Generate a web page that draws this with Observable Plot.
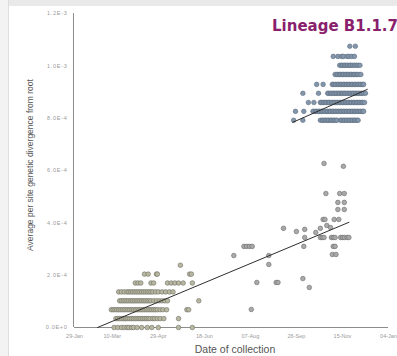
<!DOCTYPE html>
<html>
<head>
<meta charset="utf-8">
<script src="https://cdn.jsdelivr.net/npm/d3@7"></script>
<script src="https://cdn.jsdelivr.net/npm/@observablehq/plot@0.6"></script>
<style>
  html, body { margin: 0; padding: 0; background: #fff; }
  #wrap { position: relative; width: 397px; height: 356px; overflow: hidden; font-family: "Liberation Sans", Arial, sans-serif; }
  #wrap svg { position: absolute; left: 0; top: 0; }
  #topband { position: absolute; left: 0; top: 0; width: 397px; height: 6px; background: #e9e9e9; }
  #leftband { position: absolute; left: 0; top: 0; width: 8px; height: 356px; background: #f3f3f3; border-right: 1px solid #dedede; }
  #title { position: absolute; left: 272px; top: 19px; font: bold 15px "DejaVu Sans", Verdana, sans-serif; line-height: 15px; color: #8a1f6d; white-space: nowrap; }
  #ylabel { position: absolute; left: 30px; top: 165px; transform: translate(-50%, -50%) rotate(-90deg); font-size: 8.5px; color: #555; white-space: nowrap; }
  #xlabel { position: absolute; left: 235px; top: 349px; transform: translate(-50%, -50%); font-size: 10.5px; color: #555; white-space: nowrap; }
  svg [aria-label="y-axis tick label"] text { letter-spacing: 0.7px; }
</style>
</head>
<body>
<div id="wrap">
  <div id="chart"></div>
  <div id="topband"></div>
  <div id="leftband"></div>
  <div id="title">Lineage B1.1.7</div>
  <div id="ylabel">Average per site genetic divergence from root</div>
  <div id="xlabel">Date of collection</div>
</div>
<script>
// Day numbers are days of the year 2020 (1 = 1 Jan 2020).
const xTickDays = [29, 70, 120, 170, 220, 270, 320, 370];
const xTickLabels = ["29-Jan", "10-Mar", "29-Apr", "18-Jun", "07-Aug", "26-Sep", "15-Nov", "04-Jan"];
const yTicks = [0, 2e-4, 4e-4, 6e-4, 8e-4, 1e-3, 1.2e-3];
const yTickLabels = ["0.0E+0", "2.0E-4", "4.0E-4", "6.0E-4", "8.0E-4", "1.0E-3", "1.2E-3"];

// Early cluster (Mar-Jun), one list of days per divergence row
const earlyValues = [0, 3.4e-5, 6.8e-5, 1.02e-4, 1.36e-4, 1.70e-4, 2.04e-4, 2.38e-4];
const earlyDays = [
  [72, 76, 80, 83, 86, 88, 91, 93, 97, 102, 108, 113, 120, 142, 157],
  [74, 76, 78, 80, 82, 84, 85, 87, 89, 91, 93, 95, 97, 99, 101, 103, 105, 107, 109, 111, 114, 116, 119, 122, 126, 142],
  [69, 71, 73, 75, 77, 79, 81, 83, 85, 87, 89, 91, 93, 95, 97, 99, 101, 103, 105, 107, 109, 111, 113, 115, 117, 119, 122, 125, 129, 151, 153],
  [78, 80, 82, 84, 86, 88, 90, 92, 94, 96, 98, 100, 102, 104, 106, 108, 110, 112, 115, 118, 121, 124, 127, 130, 164],
  [77, 80, 83, 86, 88, 90, 92, 94, 96, 98, 100, 102, 104, 106, 108, 110, 112, 114, 117, 120, 124, 128, 132, 136],
  [95, 98, 101, 112, 115, 130, 134, 138, 142, 147, 157],
  [105, 109, 118, 119, 154, 156],
  [144]
];

// Scattered points (Jun-Nov, below the B.1.1.7 cluster)
const midDays = [202, 240, 240, 213, 216, 219, 222, 227, 248, 250, 221, 277, 284, 300, 321,
  302, 317, 322, 315, 322, 315, 322, 299, 301, 311, 316, 256, 270, 279, 296, 303, 307, 291, 279,
  296, 298, 300, 308, 310, 312, 318, 320, 322, 325, 327, 310, 312, 278, 309, 313];
const midValues = [2.75e-4, 2.75e-4, 2.41e-4, 3.10e-4, 3.10e-4, 3.10e-4, 3.10e-4, 1.72e-4, 1.72e-4, 1.72e-4, 6.9e-5, 1.87e-4, 1.53e-4, 6.27e-4, 6.16e-4,
  5.12e-4, 5.12e-4, 5.12e-4, 4.78e-4, 4.78e-4, 4.51e-4, 4.51e-4, 4.13e-4, 4.13e-4, 4.13e-4, 4.13e-4, 3.79e-4, 3.67e-4, 3.75e-4, 3.79e-4, 3.90e-4, 3.82e-4, 3.63e-4, 3.44e-4,
  3.44e-4, 3.44e-4, 3.44e-4, 3.44e-4, 3.44e-4, 3.44e-4, 3.44e-4, 3.44e-4, 3.44e-4, 3.44e-4, 3.44e-4, 3.10e-4, 3.10e-4, 3.10e-4, 2.79e-4, 2.79e-4];

// B.1.1.7 cluster (Sep-Dec), one list of days per divergence row
const lineageValues = [7.92e-4, 8.26e-4, 8.60e-4, 8.95e-4, 9.29e-4, 9.67e-4, 1.002e-3, 1.036e-3, 1.075e-3];
const lineageDays = [
  [267, 277, 296, 298, 299, 301, 302, 304, 305, 307, 308, 310, 311, 313, 314, 318, 319, 321, 322, 324, 325, 327, 328, 330, 331, 333, 334, 336, 337],
  [269, 278, 288, 289, 291, 292, 294, 295, 297, 298, 300, 301, 303, 304, 306, 307, 309, 310, 312, 313, 315, 316, 318, 319, 321, 322, 324, 325, 327, 328, 330, 331, 333, 334, 336, 337, 339, 340, 342, 343],
  [283, 289, 296, 297, 299, 300, 302, 303, 305, 306, 308, 309, 311, 312, 314, 315, 317, 318, 320, 321, 323, 324, 326, 327, 329, 330, 332, 333, 335, 336, 338, 339, 341, 342, 344],
  [277, 294, 304, 305, 307, 308, 310, 311, 313, 314, 316, 317, 319, 320, 322, 323, 325, 326, 328, 329, 331, 332, 334, 335, 337, 338, 340, 341, 343, 345],
  [292, 299, 309, 310, 312, 313, 315, 316, 318, 319, 321, 322, 324, 325, 327, 328, 330, 331, 333, 334, 336, 337, 339, 340, 342, 343],
  [312, 314, 315, 317, 318, 320, 321, 323, 324, 326, 327, 329, 330, 332, 333, 335, 336, 338, 340],
  [317, 319, 320, 322, 323, 325, 326, 328, 329, 331, 333, 335, 337, 339],
  [310, 315, 319, 321, 325, 327, 330, 333],
  [328, 334]
];

// Trend lines (endpoints)
const trendEarlyDays = [54, 327];
const trendEarlyValues = [0, 4.02e-4];
const trendLineageDays = [266, 347];
const trendLineageValues = [7.84e-4, 9.10e-4];

const toDate = d => new Date(2020, 0, d);
const rows = (values, days) => values.flatMap((v, i) => days[i].map(d => ({date: toDate(d), value: v})));
const early = rows(earlyValues, earlyDays);
const lineage = rows(lineageValues, lineageDays);
const mid = midDays.map((d, i) => ({date: toDate(d), value: midValues[i]}));
const trendEarly = trendEarlyDays.map((d, i) => ({date: toDate(d), value: trendEarlyValues[i]}));
const trendLineage = trendLineageDays.map((d, i) => ({date: toDate(d), value: trendLineageValues[i]}));

const xTicks = xTickDays.map(toDate);
const xLabelMap = new Map(xTicks.map((d, i) => [d.getTime(), xTickLabels[i]]));
const yLabelOf = v => yTickLabels[yTicks.findIndex(t => Math.abs(t - v) < 1e-9)];

const chart = Plot.plot({
  width: 397,
  height: 356,
  marginLeft: 74,
  marginRight: 9,
  marginTop: 13,
  marginBottom: 29,
  style: {background: "transparent", fontFamily: "Liberation Sans, Arial, sans-serif", overflow: "visible"},
  x: {type: "time", domain: [toDate(29), toDate(370)]},
  y: {domain: [0, 1.2e-3]},
  marks: [
    Plot.ruleY([0], {stroke: "#8c8c8c", strokeWidth: 1}),
    Plot.ruleX([toDate(29)], {stroke: "#8c8c8c", strokeWidth: 1, dx: -1}),
    Plot.axisX({ticks: xTicks, tickFormat: d => xLabelMap.get(d.getTime()), tickSize: 0, tickPadding: 7, fontSize: 5.5, fill: "#9a9a9a", label: null}),
    Plot.axisY({ticks: yTicks, tickFormat: yLabelOf, tickSize: 0, tickPadding: 7, fontSize: 5.5, fill: "#9a9a9a", label: null}),
    Plot.dot(early, {x: "date", y: "value", r: 2.3, fill: "#b8b79f", stroke: "#6f6f66", strokeWidth: 0.6}),
    Plot.dot(mid, {x: "date", y: "value", r: 2.3, fill: "#a9a9a9", stroke: "#686868", strokeWidth: 0.6}),
    Plot.dot(lineage, {x: "date", y: "value", r: 2.3, fill: "#8496ab", stroke: "#5d6d80", strokeWidth: 0.6}),
    Plot.line(trendEarly, {x: "date", y: "value", stroke: "#2e2e2e", strokeWidth: 1}),
    Plot.line(trendLineage, {x: "date", y: "value", stroke: "#2e2e2e", strokeWidth: 1})
  ]
});
document.getElementById("chart").appendChild(chart);
</script>
</body>
</html>
